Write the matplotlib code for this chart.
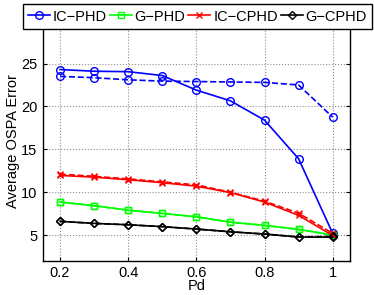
import matplotlib
matplotlib.use("Agg")
import matplotlib.pyplot as plt

pd_vals = [0.2, 0.3, 0.4, 0.5, 0.6, 0.7, 0.8, 0.9, 1.0]

ic_phd = [24.3, 24.1, 24.05, 23.6, 21.9, 20.65, 18.4, 13.9, 5.2]
ic_phd_dash = [23.5, 23.35, 23.1, 22.95, 22.9, 22.85, 22.8, 22.5, 18.75]
g_phd = [8.85, 8.42, 7.9, 7.52, 7.13, 6.5, 6.13, 5.66, 5.0]
g_phd_dash = [8.85, 8.42, 7.9, 7.52, 7.13, 6.5, 6.13, 5.66, 5.0]
ic_cphd = [11.95, 11.75, 11.45, 11.1, 10.7, 9.95, 8.85, 7.3, 4.95]
ic_cphd_dash = [12.1, 11.85, 11.55, 11.2, 10.85, 10.0, 8.95, 7.55, 5.2]
g_cphd = [6.6, 6.36, 6.2, 5.98, 5.7, 5.38, 5.12, 4.77, 4.75]
g_cphd_dash = [6.6, 6.36, 6.2, 5.98, 5.7, 5.38, 5.12, 4.77, 4.85]

labels = ["IC\u2212PHD", "G\u2212PHD", "IC\u2212CPHD", "G\u2212CPHD"]
xticks = [0.2, 0.4, 0.6, 0.8, 1.0]
xticklabels = ["0.2", "0.4", "0.6", "0.8", "1"]
yticks = [5, 10, 15, 20, 25]

plt.rcParams['font.family'] = ['Liberation Sans', 'DejaVu Sans']
fig = plt.figure(figsize=(3.74, 2.95), dpi=100)
ax = fig.add_axes([0.115, 0.116, 0.82, 0.814])

lw = 1.2
kw = dict(lw=lw, mfc='none', mew=1.0)
h1, = ax.plot(pd_vals, ic_phd, '-o', color='#0000ff', ms=5.5, **kw)
ax.plot(pd_vals, ic_phd_dash, '--o', color='#0000ff', ms=5.5, **kw)
h2, = ax.plot(pd_vals, g_phd, '-s', color='#00ff00', ms=4.5, **kw)
ax.plot(pd_vals, g_phd_dash, '--s', color='#00ff00', ms=4.5, **kw)
h3, = ax.plot(pd_vals, ic_cphd, '-x', color='#ff0000', ms=5, **kw)
ax.plot(pd_vals, ic_cphd_dash, '--x', color='#ff0000', ms=5, **kw)
h4, = ax.plot(pd_vals, g_cphd, '-D', color='black', ms=4.5, **kw)
ax.plot(pd_vals, g_cphd_dash, '--D', color='black', ms=4.5, **kw)

ax.set_xlim(0.15, 1.05)
ax.set_ylim(2, 30)
ax.set_xticks(xticks)
ax.set_xticklabels(xticklabels)
ax.set_yticks(yticks)
ax.tick_params(direction='in', labelsize=10.5, length=3, width=0.8, top=True, right=True, pad=4)
ax.grid(True, linestyle=':', color='0.55', lw=0.8)
for s in ax.spines.values():
    s.set_linewidth(1.0)
ax.set_xlabel("Pd", fontsize=10.5, labelpad=-1)
ax.set_ylabel("Average OSPA Error", fontsize=10.5, labelpad=1)

leg = fig.legend([h1, h2, h3, h4], labels, loc='upper center', ncol=4,
                 bbox_to_anchor=(0.528, 0.985), fontsize=10.5, frameon=True,
                 fancybox=False, edgecolor='black', framealpha=1,
                 handlelength=1.5, handletextpad=0.2, columnspacing=0.2,
                 borderpad=0.35, borderaxespad=0)
leg.get_frame().set_linewidth(1.0)

fig.savefig("out.png", dpi=100)
